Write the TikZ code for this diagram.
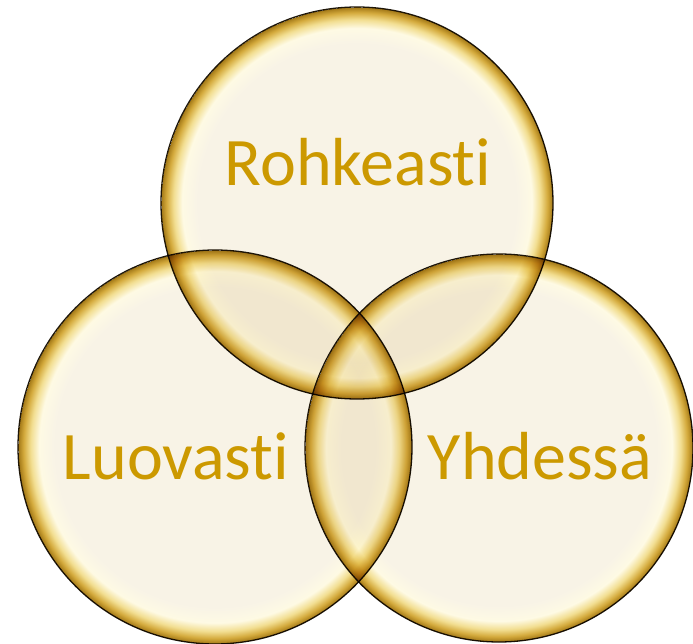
\documentclass[tikz,border=0pt]{standalone}
\usepackage{fontspec}
\setmainfont[RawFeature={-liga;-clig;-dlig}]{Carlito}
\definecolor{cream}{RGB}{248,243,230}
\definecolor{hlc}{RGB}{254,250,228}
\definecolor{yelc}{RGB}{242,222,145}
\definecolor{goldc}{RGB}{212,170,60}
\definecolor{dgoldc}{RGB}{160,118,22}
\definecolor{txtc}{RGB}{204,153,0}
\definecolor{rimline}{RGB}{30,22,8}
\pgfdeclareradialshading{bubbleshade}{\pgfpoint{0bp}{0bp}}{color(0bp)=(cream); color(20.3bp)=(cream); color(22.3bp)=(hlc); color(23.4bp)=(yelc); color(24.3bp)=(goldc); color(25bp)=(dgoldc)}
\tikzset{
  bubble/.style={circle, inner sep=0pt, shading=bubbleshade, draw=rimline, line width=1.3pt, blend mode=multiply},
  label text/.style={font=\fontsize{68}{72}\selectfont, text=txtc, inner sep=0pt, anchor=base}
}
\begin{document}
\begin{tikzpicture}[x=1pt,y=-1pt]
\useasboundingbox (0,0) rectangle (693,644);
\node[bubble, minimum size=392pt] (top) at (357,203) {};
\node[bubble, minimum size=394pt] (left) at (215,447) {};
\node[bubble, minimum size=388pt] (right) at (499,448) {};
\node[label text] (t1) at (358,186) {Rohkeasti};
\node[label text] (t2) at (176,479) {Luovasti};
\node[label text] (t3) at (540,479) {Yhdessä};
\end{tikzpicture}
\end{document}
